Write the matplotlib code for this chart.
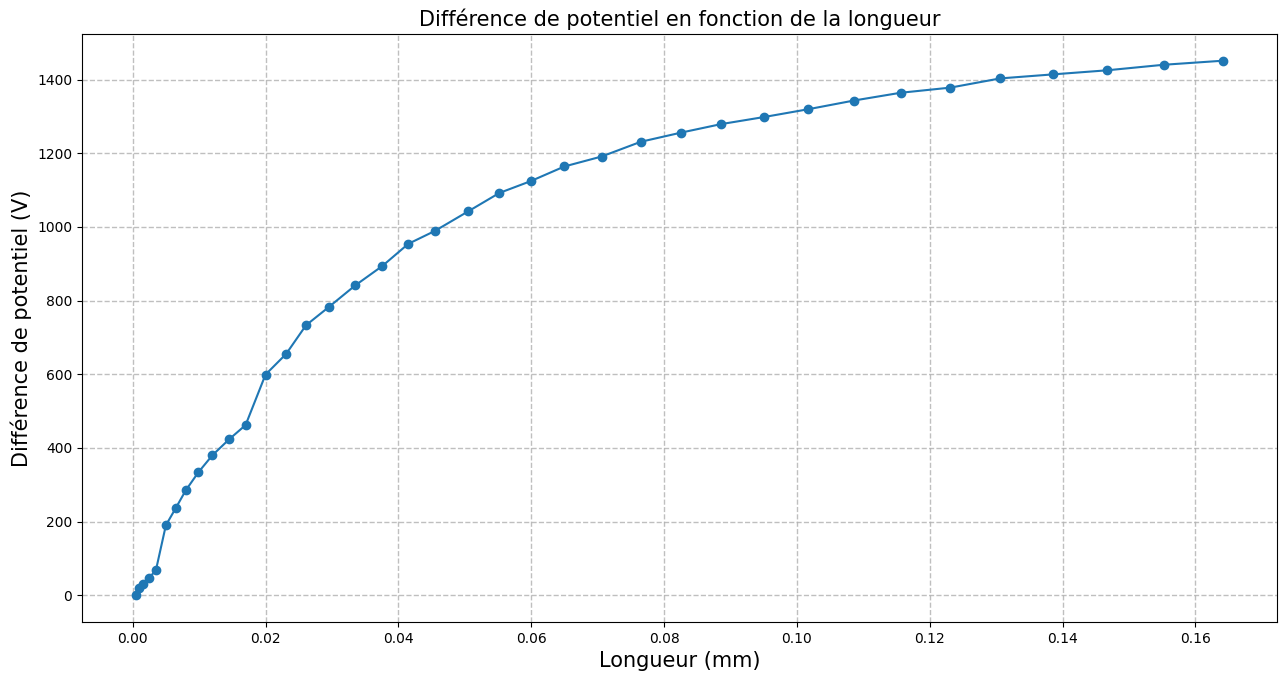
import matplotlib.pyplot as plt

# longueur (mm) et difference de potentiel (V)
longueur = [0.00055, 0.001, 0.0015, 0.0025, 0.0035, 0.005, 0.0065, 0.008,
            0.0099, 0.012, 0.0145, 0.017, 0.02, 0.0231, 0.0261, 0.0295,
            0.0335, 0.0376, 0.0415, 0.0455, 0.0505, 0.0552, 0.0599, 0.065,
            0.0706, 0.0765, 0.0826, 0.0886, 0.095, 0.1016, 0.1086, 0.1156,
            0.1231, 0.1306, 0.1386, 0.1467, 0.1552, 0.1641]
tension = [0, 19, 30, 48, 68, 190, 237, 285,
           334, 380, 423, 462, 599, 655, 733, 782,
           841, 894, 954, 989, 1042, 1092, 1124, 1164,
           1191, 1231, 1256, 1279, 1298, 1319, 1343, 1364,
           1378, 1403, 1414, 1425, 1440, 1451]

fig = plt.figure(figsize=(12.79, 6.75), dpi=100)
ax = fig.add_axes([82/1279, 1 - 622/675, (1277-82)/1279, (622-34)/675])
ax.plot(longueur, tension, marker='o', color='#1f77b4', linewidth=1.5, markersize=6)
ax.set_title('Différence de potentiel en fonction de la longueur', fontsize=15)
ax.set_xlabel('Longueur (mm)', fontsize=15)
ax.set_ylabel('Différence de potentiel (V)', fontsize=15)
ax.grid(True, linestyle='--', color='#b0b0b0', linewidth=1, alpha=0.8)
fig.savefig('out.png', dpi=100)
